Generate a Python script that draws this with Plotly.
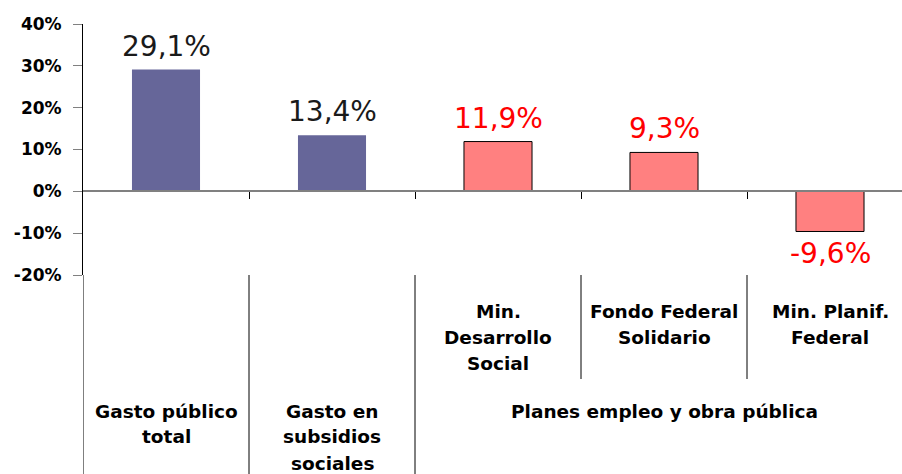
import plotly.graph_objects as go

# ---- data ----
categories = ["Gasto público total", "Gasto en subsidios sociales",
              "Min. Desarrollo Social", "Fondo Federal Solidario", "Min. Planif. Federal"]
category_lines = [["Gasto público", "total"],
                  ["Gasto en", "subsidios", "sociales"],
                  ["Min.", "Desarrollo", "Social"],
                  ["Fondo Federal", "Solidario"],
                  ["Min. Planif.", "Federal"]]
values = [29.1, 13.4, 11.9, 9.3, -9.6]
value_labels = ["29,1%", "13,4%", "11,9%", "9,3%", "-9,6%"]
group_label = "Planes empleo y obra pública"
y_ticks = [-20, -10, 0, 10, 20, 30, 40]
y_tick_labels = ["-20%", "-10%", "0%", "10%", "20%", "30%", "40%"]

# ---- styling ----
W, H = 902, 474
PLOT_TOP, PLOT_BOTTOM = 24, 275
PLOT_LEFT = 83
PH = PLOT_BOTTOM - PLOT_TOP
Y_MIN, Y_MAX = -20, 40


def py(pix):
    """pixel row -> paper y"""
    return (PLOT_BOTTOM - pix) / PH


bar_colors = ["#666699", "#666699", "#FF8080", "#FF8080", "#FF8080"]
bar_lines = [0, 0, 1, 1, 1]
label_colors = ["#1a1a1a", "#1a1a1a", "#FF0000", "#FF0000", "#FF0000"]
x = list(range(len(categories)))

fig = go.Figure()
fig.add_trace(go.Bar(
    x=x, y=values, width=0.41,
    marker=dict(color=bar_colors, line=dict(color="black", width=bar_lines)),
    hoverinfo="skip",
))

annotations = []
for i, (v, t) in enumerate(zip(values, value_labels)):
    annotations.append(dict(
        x=i, y=v, xref="x", yref="y", text=t, showarrow=False,
        yanchor="bottom" if v >= 0 else "top",
        yshift=5 if v >= 0 else -4,
        font=dict(family="DejaVu Sans", size=28, color=label_colors[i]),
    ))

LINE_SP = 26
for i, lines in enumerate(category_lines):
    start = 411 if i < 2 else 311
    for j, ln in enumerate(lines):
        annotations.append(dict(
            x=i, y=py(start + j * LINE_SP), xref="x", yref="paper", text=ln,
            showarrow=False, yanchor="middle", xanchor="center",
            font=dict(family="DejaVu Sans", size=18.5, color="black", weight="bold"),
        ))
annotations.append(dict(
    x=3, y=py(411), xref="x", yref="paper", text=group_label, showarrow=False,
    yanchor="middle", xanchor="center",
    font=dict(family="DejaVu Sans", size=18.5, color="black", weight="bold"),
))

shapes = [
    dict(type="line", xref="x", yref="paper", x0=-0.5, x1=-0.5, y0=0, y1=py(H + 5),
         line=dict(color="black", width=1)),
    dict(type="line", xref="x", yref="paper", x0=0.5, x1=0.5, y0=0, y1=py(H + 5),
         line=dict(color="black", width=1)),
    dict(type="line", xref="x", yref="paper", x0=1.5, x1=1.5, y0=0, y1=py(H + 5),
         line=dict(color="black", width=1)),
    dict(type="line", xref="x", yref="paper", x0=2.5, x1=2.5, y0=0, y1=py(379),
         line=dict(color="black", width=1)),
    dict(type="line", xref="x", yref="paper", x0=3.5, x1=3.5, y0=0, y1=py(379),
         line=dict(color="black", width=1)),
]

zero_pos = (0 - Y_MIN) / (Y_MAX - Y_MIN)
x_right = -0.5 + (W - PLOT_LEFT) / 166.0

fig.update_layout(
    width=W, height=H,
    margin=dict(l=PLOT_LEFT, r=0, t=PLOT_TOP, b=H - PLOT_BOTTOM, pad=0),
    plot_bgcolor="white", paper_bgcolor="white",
    showlegend=False,
    annotations=annotations, shapes=shapes,
    xaxis=dict(
        range=[-0.5, x_right], tickvals=[0.5, 1.5, 2.5, 3.5], showticklabels=False,
        ticks="outside", ticklen=7, tickcolor="black", tickwidth=1,
        showline=True, linecolor="#808080", linewidth=1.5,
        showgrid=False, zeroline=False, anchor="free", position=zero_pos,
    ),
    yaxis=dict(
        range=[Y_MIN, Y_MAX], tickvals=y_ticks, ticktext=y_tick_labels,
        ticks="outside", ticklen=9, tickcolor="#808080", tickwidth=1,
        showline=True, linecolor="black", linewidth=1,
        showgrid=False, zeroline=False, ticklabelstandoff=8,
        tickfont=dict(family="DejaVu Sans", size=17, color="black", weight="bold"),
    ),
)

fig.write_html("out.html")
